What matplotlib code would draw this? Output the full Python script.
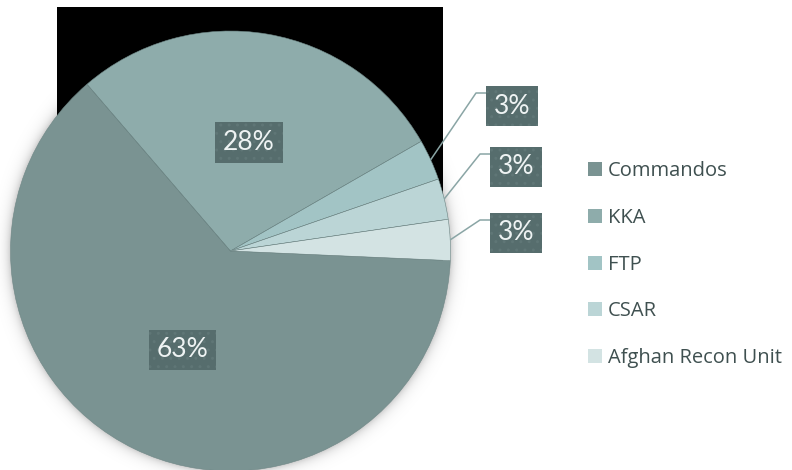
import numpy as np
import matplotlib
matplotlib.use("Agg")
import matplotlib.pyplot as plt
from matplotlib.patches import Rectangle, Patch

# Unit breakdown
units = ["Commandos", "KKA", "FTP", "CSAR", "Afghan Recon Unit"]
shares = [63, 28, 3, 3, 3]
colors = ["#7a9392", "#8eacab", "#a2c4c5", "#bbd5d6", "#d3e3e3"]

W, H = 792, 470
fig = plt.figure(figsize=(W / 100, H / 100), dpi=100)
ax = fig.add_axes([0, 0, 1, 1])
ax.set_xlim(0, W)
ax.set_ylim(0, H)
ax.set_aspect("equal")
ax.axis("off")

cx, cy, R = 230.5, 219.0, 220.0

# dark plot-area panel behind the pie
ax.add_patch(Rectangle((57, 180), 386, 283, facecolor="black", edgecolor="none", zorder=0))

# soft outer shadow around the pie
yy, xx = np.mgrid[0:H, 0:W]
d = np.hypot(xx + 0.5 - cx, (H - yy - 0.5) - cy)
a = np.where(d > R - 2, 0.30 * np.exp(-np.clip(d - R + 2, 0, None) / 5.0), 0.0)
rgba = np.zeros((H, W, 4))
rgba[..., 3] = a
ax.imshow(rgba, extent=(0, W, 0, H), origin="upper", zorder=1, interpolation="bilinear")

wedges, _ = ax.pie(shares, colors=colors, startangle=-2.5, counterclock=False,
                   center=(cx, cy), radius=R, frame=True,
                   wedgeprops=dict(edgecolor="#6e8786", linewidth=0.4, zorder=2))
ax.set_xlim(0, W)
ax.set_ylim(0, H)
ax.axis("off")

box_color = "#566d6d"
label_font = dict(family=["Lato", "DejaVu Sans"], fontweight="normal", fontsize=19,
                  color="#eef3f3")


def pct_label(x, y, text):
    t = ax.text(x, y, text, ha="center", va="center", zorder=5,
                bbox=dict(boxstyle="square,pad=0.3", facecolor=box_color,
                          edgecolor="#5f7676", linewidth=0), **label_font)
    t.get_bbox_patch().set_hatch("..")
    return t


def mid_angle(w):
    return np.deg2rad((w.theta1 + w.theta2) / 2)


# large slices: labels at half radius
for i in (0, 1):
    th = mid_angle(wedges[i])
    pct_label(cx + 0.5 * R * np.cos(th), cy + 0.5 * R * np.sin(th), f"{shares[i]}%")

# small slices: labels outside with leader lines
label_pos = [(512, 364), (516, 303), (516, 237)]
elbow_x = [476, 480, 480]
box_half_w, box_half_h = 25, 21
for k, i in enumerate((2, 3, 4)):
    th = mid_angle(wedges[i])
    sx, sy = cx + R * np.cos(th), cy + R * np.sin(th)
    lx, ly = label_pos[k]
    ey = ly + box_half_h - 8
    ax.plot([sx, elbow_x[k], lx - box_half_w], [sy, ey, ey], color="#8aa5a5",
            linewidth=1.1, zorder=4, solid_capstyle="butt")
    pct_label(lx, ly, f"{shares[i]}%")

handles = [Patch(facecolor=c, edgecolor="none") for c in colors]
leg = ax.legend(handles, units, loc="upper left", bbox_to_anchor=(578 / W, 1 - 151 / H),
                frameon=False, handlelength=0.7, handleheight=0.7, handletextpad=0.3,
                labelspacing=1.33, borderpad=0,
                prop=dict(family=["Open Sans", "DejaVu Sans"], size=14.5))
for t in leg.get_texts():
    t.set_color("#3f5050")

fig.savefig("out.png", dpi=100)
